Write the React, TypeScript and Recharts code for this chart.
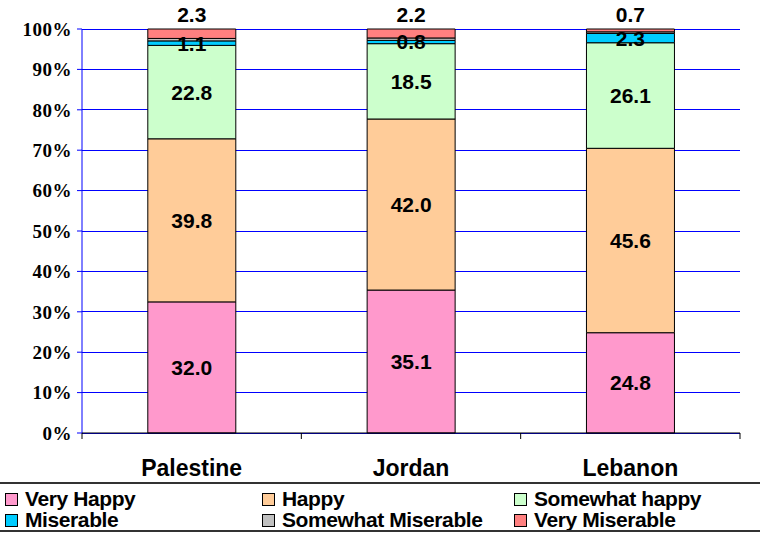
import React from 'react';
import { BarChart, Bar, XAxis, YAxis, CartesianGrid, LabelList } from 'recharts';

const categories = ['Palestine', 'Jordan', 'Lebanon'];
const veryHappy = [32.0, 35.1, 24.8];
const happy = [39.8, 42.0, 45.6];
const somewhatHappy = [22.8, 18.5, 26.1];
const miserable = [1.1, 0.8, 2.3];
const somewhatMiserable = [0.6, 0.6, 0.4];
const veryMiserable = [2.3, 2.2, 0.7];
const yTicks = [0, 0.1, 0.2, 0.3, 0.4, 0.5, 0.6, 0.7, 0.8, 0.9, 1];

const series = [
  { key: 'Very Happy', values: veryHappy, color: '#FF99CC', label: 'center' },
  { key: 'Happy', values: happy, color: '#FFCC99', label: 'center' },
  { key: 'Somewhat happy', values: somewhatHappy, color: '#CCFFCC', label: 'center' },
  { key: 'Miserable', values: miserable, color: '#00CCFF', label: 'center' },
  { key: 'Somewhat Miserable', values: somewhatMiserable, color: '#C0C0C0', label: '' },
  { key: 'Very Miserable', values: veryMiserable, color: '#FF8080', label: 'top' },
];

const data = categories.map((name, i) => {
  const row: Record<string, string | number> = { name };
  series.forEach((s) => {
    row[s.key] = s.values[i];
  });
  return row;
});

const W = 760;
const H = 484;
const LEFT = 82;
const RIGHT = 20;
const HALF = (W - LEFT - RIGHT) / categories.length / 2;

const labelStyle = {
  fontFamily: 'Arial, "Liberation Sans", sans-serif',
  fontWeight: 700,
  fontSize: 21,
  fill: '#000',
};

function XTick(props: any) {
  const { x, y, payload, index } = props;
  return (
    <g>
      <line x1={x - HALF} y1={y} x2={x - HALF} y2={y + 6} stroke="#000" />
      {index === categories.length - 1 && (
        <line x1={x + HALF} y1={y} x2={x + HALF} y2={y + 6} stroke="#000" />
      )}
      <text
        x={x}
        y={y + 43}
        textAnchor="middle"
        style={{ ...labelStyle, fontSize: 23 }}
      >
        {payload.value}
      </text>
    </g>
  );
}

export default function App() {
  return (
    <div style={{ position: 'absolute', left: 0, top: 0, width: 760, height: 534, background: '#fff' }}>
      <BarChart
        width={W}
        height={H}
        data={data}
        stackOffset="expand"
        barCategoryGap="30%"
        margin={{ top: 29, right: RIGHT, left: 0, bottom: 0 }}
      >
        <CartesianGrid vertical={false} stroke="#0000FF" shapeRendering="crispEdges" />
        <YAxis
          width={LEFT}
          domain={[0, 1]}
          ticks={yTicks}
          interval={0}
          tickFormatter={(v: number) => `${Math.round(v * 100)}%`}
          axisLine={{ stroke: '#0000FF' }}
          tickLine={{ stroke: '#0000FF' }}
          tickSize={5}
          tickMargin={5}
          tick={{
            fill: '#000',
            fontFamily: '"Times New Roman", "Liberation Serif", serif',
            fontWeight: 700,
            fontSize: 19,
            letterSpacing: 0.5,
          }}
        />
        <XAxis
          dataKey="name"
          height={H - 29 - 404}
          interval={0}
          axisLine={{ stroke: '#000' }}
          tickLine={false}
          tickSize={0}
          tickMargin={0}
          tick={<XTick />}
        />
        {series.map((s) => (
          <Bar
            key={s.key}
            dataKey={s.key}
            stackId="a"
            fill={s.color}
            stroke="#000"
            strokeWidth={1}
            isAnimationActive={false}
          >
            {s.label && (
              <LabelList
                dataKey={s.key}
                position={s.label as any}
                offset={s.label === 'top' ? 7 : 4}
                formatter={(v: any) => Number(v).toFixed(1)}
                style={labelStyle}
              />
            )}
          </Bar>
        ))}
      </BarChart>
      <div
        style={{
          position: 'absolute',
          left: 0,
          top: 482,
          width: 760,
          height: 46,
          borderTop: '2px solid #333',
          borderBottom: '2px solid #333',
          overflow: 'hidden',
          fontFamily: 'Arial, "Liberation Sans", sans-serif',
          fontWeight: 700,
          fontSize: 21,
          lineHeight: '20px',
          letterSpacing: -0.4,
        }}
      >
        {series.map((s, i) => (
          <div
            key={s.key}
            style={{
              position: 'absolute',
              left: [5, 262, 514][i % 3],
              top: i < 3 ? 5 : 26,
              display: 'flex',
              alignItems: 'center',
              whiteSpace: 'nowrap',
            }}
          >
            <span
              style={{
                display: 'inline-block',
                width: 11,
                height: 11,
                background: s.color,
                border: '1px solid #000',
                marginRight: 7,
              }}
            />
            {s.key}
          </div>
        ))}
      </div>
    </div>
  );
}
